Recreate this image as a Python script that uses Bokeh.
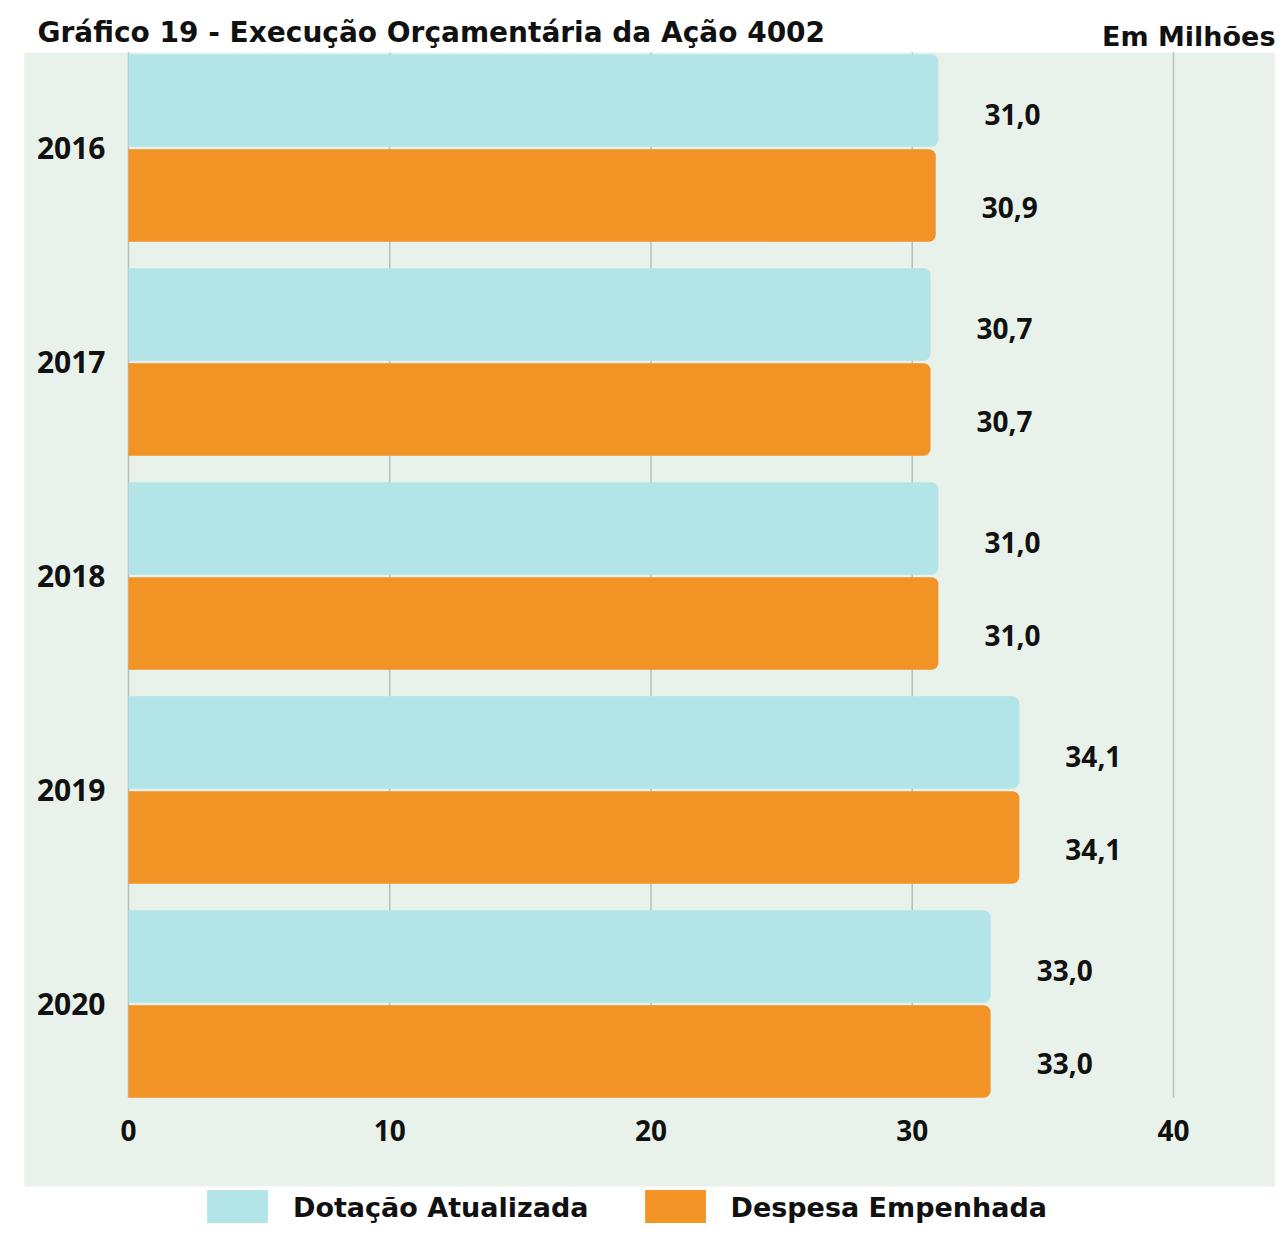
from bokeh.plotting import figure
from bokeh.models import Range1d, ColumnDataSource, BoxAnnotation, Label, Legend, LegendItem
from bokeh.core.properties import value
from bokeh.embed import file_html
from bokeh.resources import INLINE

# ---- data ----
years = ["2016", "2017", "2018", "2019", "2020"]
dotacao = [31.0, 30.7, 31.0, 34.1, 33.0]
despesa = [30.9, 30.7, 31.0, 34.1, 33.0]
x_ticks = [0, 10, 20, 30, 40]
series_names = ["Dotação Atualizada", "Despesa Empenhada"]
title_text = "Gráfico  19 - Execução Orçamentária da Ação 4002"
unit_text = "Em Milhões"

# ---- style ----
CYAN = "#b3e5e8"
ORANGE = "#f29326"
BG = "#e8f1ea"
GRID = "#b8beb9"
FONT = "DejaVu Sans"
NUMFONT = "Open Sans"

W, H = 1275, 1223
PX_PER_X = 26.125   # pixels per unit on x
PX_PER_Y = 214.0    # pixels per category on y
X0_PX = 128.0       # canvas x of value 0
Y0_PX = 147.5       # canvas y of first category centre

def xd(px):
    return (px - X0_PX) / PX_PER_X

def yd(py):
    return (py - Y0_PX) / PX_PER_Y

p = figure(width=W, height=H, output_backend="svg", toolbar_location=None,
           x_range=Range1d(xd(0), xd(W)), y_range=Range1d(yd(H), yd(0)),
           x_axis_type=None, y_axis_type=None, min_border=0,
           outline_line_color=None, background_fill_color="white",
           border_fill_color="white")

# green panel
p.add_layout(BoxAnnotation(left=xd(24), right=xd(W + 5), top=yd(52), bottom=yd(1186),
                           fill_color=BG, fill_alpha=1.0, line_color=None, level="underlay"))

n = len(years)
idx = list(range(n))
off = 0.222
bh = 0.432
bar_bottom = (n - 1) + off + bh / 2

# grid lines
p.segment(x0=x_ticks, x1=x_ticks, y0=[yd(52)] * len(x_ticks), y1=[bar_bottom] * len(x_ticks),
          line_color=GRID, line_width=1.5)

src = ColumnDataSource(dict(
    y1=[i - off for i in idx], y2=[i + off for i in idx],
    dot=dotacao, desp=despesa,
    dot_lbl=[f"{v:.1f}".replace(".", ",") for v in dotacao],
    desp_lbl=[f"{v:.1f}".replace(".", ",") for v in despesa],
    yc=idx, year=years, zero=[0] * n,
))

r1 = p.hbar(y="y1", right="dot", left=0, height=bh, source=src, fill_color=CYAN,
            line_color=None, border_radius=(0, 7, 7, 0))
r2 = p.hbar(y="y2", right="desp", left=0, height=bh, source=src, fill_color=ORANGE,
            line_color=None, border_radius=(0, 7, 7, 0))

num_kw = dict(text_font=value(NUMFONT), text_font_style="bold", text_font_size="28px",
              text_color="#111111")

# value labels
p.text(x="dot", y="y1", text="dot_lbl", source=src, x_offset=46, y_offset=14,
       text_align="left", text_baseline="middle", **num_kw)
p.text(x="desp", y="y2", text="desp_lbl", source=src, x_offset=46, y_offset=12,
       text_align="left", text_baseline="middle", **num_kw)

# category labels
p.text(x="zero", y="yc", text="year", source=src, x_offset=-23,
       text_align="right", text_baseline="middle",
       text_font=value(NUMFONT), text_font_style="bold", text_font_size="30px",
       text_color="#111111")

# x tick labels
p.text(x=x_ticks, y=[yd(1130)] * len(x_ticks), text=[str(t) for t in x_ticks],
       text_align="center", text_baseline="middle", **num_kw)

# title and unit
p.add_layout(Label(x=xd(37), y=yd(32), text=title_text, text_align="left",
                   text_baseline="alphabetic", text_font=FONT, text_font_style="bold",
                   text_font_size="28px", text_color="#111111"))
p.add_layout(Label(x=xd(1275), y=yd(36), text=unit_text, text_align="right",
                   text_baseline="alphabetic", text_font=FONT, text_font_style="bold",
                   text_font_size="27px", text_color="#111111"))

legend = Legend(items=[LegendItem(label=series_names[0], renderers=[r1]),
                       LegendItem(label=series_names[1], renderers=[r2])],
                orientation="horizontal", location=(199, -6),
                glyph_width=76, glyph_height=44, label_standoff=18, spacing=48,
                padding=0, margin=0, border_line_color=None, background_fill_alpha=0,
                label_text_font=FONT, label_text_font_style="bold",
                label_text_font_size="27px", label_text_color="#111111")
p.add_layout(legend)

open("out.html", "w").write(file_html(p, INLINE))
